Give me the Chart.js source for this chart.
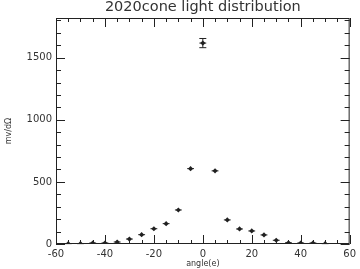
<!DOCTYPE html>
<html>
<head>
<meta charset="UTF-8">
<script src="https://cdn.jsdelivr.net/npm/chart.js"></script>
<style>
  body { margin: 0; background: #fff; }
  #wrap { width: 360px; height: 269px; }
</style>
</head>
<body>
<div id="wrap"><canvas id="c" width="360" height="269"></canvas></div>
<script>
// data
const angles = [-55, -50, -45, -40, -35, -30, -25, -20, -15, -10, -5, 0, 5, 10, 15, 20, 25, 30, 35, 40, 45, 50];
const signal = [3, 3, 8, 8, 16, 40, 75, 123, 164, 274, 607, 1618, 589, 194, 121, 105, 73, 30, 10, 8, 8, 3];
const sigErr = [2, 2, 2, 2, 3, 3, 4, 5, 5, 6, 9, 37, 9, 6, 5, 5, 4, 3, 3, 2, 2, 2];
const angErr = 1.4;
const xTicks = [-60, -40, -20, 0, 20, 40, 60];
const yTicks = [0, 500, 1000, 1500];

const ink = "#222";

// inward ticks on all four sides plus frame, error bars, title
const decor = {
  id: "decor",
  afterDatasetsDraw(chart) {
    const ctx = chart.ctx, a = chart.chartArea;
    const xs = chart.scales.x, ys = chart.scales.y;
    ctx.save();
    ctx.strokeStyle = ink;
    ctx.lineWidth = 1;
    ctx.strokeRect(a.left + 0.5, a.top + 0.5, a.right - a.left - 1, a.bottom - a.top - 1);
    ctx.beginPath();
    for (let v = -60; v <= 60; v += 5) {
      const px = Math.round(xs.getPixelForValue(v)) + 0.5;
      const len = v % 20 === 0 ? 9 : 4;
      ctx.moveTo(px, a.bottom); ctx.lineTo(px, a.bottom - len);
      ctx.moveTo(px, a.top); ctx.lineTo(px, a.top + len);
    }
    for (let v = 0; v <= ys.max; v += 100) {
      const py = Math.round(ys.getPixelForValue(v)) + 0.5;
      const len = v % 500 === 0 ? 9 : 5;
      ctx.moveTo(a.left, py); ctx.lineTo(a.left + len, py);
      ctx.moveTo(a.right, py); ctx.lineTo(a.right - len, py);
    }
    ctx.stroke();

    // error bars
    ctx.beginPath();
    angles.forEach((ang, i) => {
      const x0 = xs.getPixelForValue(ang - angErr), x1 = xs.getPixelForValue(ang + angErr);
      const xc = xs.getPixelForValue(ang);
      const yc = ys.getPixelForValue(signal[i]);
      const yt = ys.getPixelForValue(signal[i] + sigErr[i]);
      const yb = ys.getPixelForValue(signal[i] - sigErr[i]);
      ctx.moveTo(x0, yc); ctx.lineTo(x1, yc);
      ctx.moveTo(xc, yt); ctx.lineTo(xc, yb);
      if (yb - yt > 6) {
        ctx.moveTo(xc - 3.5, yt); ctx.lineTo(xc + 3.5, yt);
        ctx.moveTo(xc - 3.5, yb); ctx.lineTo(xc + 3.5, yb);
      }
    });
    ctx.stroke();

    ctx.fillStyle = "#333";
    ctx.font = "14.5px 'DejaVu Sans'";
    ctx.textAlign = "center";
    ctx.textBaseline = "middle";
    ctx.fillText("2020cone light distribution", (a.left + a.right) / 2, 7);
    ctx.restore();
  }
};

new Chart(document.getElementById("c"), {
  type: "scatter",
  data: {
    datasets: [{
      data: angles.map((a, i) => ({ x: a, y: signal[i] })),
      pointStyle: "rectRot",
      pointRadius: 2.6,
      backgroundColor: ink,
      borderColor: ink,
      borderWidth: 0
    }]
  },
  options: {
    responsive: false,
    animation: false,
    layout: { padding: { top: 18, right: 6, left: 0, bottom: 0 } },
    plugins: { legend: { display: false }, tooltip: { enabled: false } },
    scales: {
      x: {
        type: "linear",
        min: -60, max: 60,
        afterBuildTicks: s => { s.ticks = xTicks.map(v => ({ value: v })); },
        afterFit: s => { s.height = 25; },
        grid: { display: false, drawTicks: false },
        border: { display: false },
        ticks: { color: "#333", padding: 4, callback: v => String(v), font: { family: "DejaVu Sans", size: 10 }, maxRotation: 0 },
        title: { display: true, text: "angle(e)", color: "#333", padding: 0, font: { family: "DejaVu Sans", size: 8 } }
      },
      y: {
        min: 0, max: 1820,
        afterBuildTicks: s => { s.ticks = yTicks.map(v => ({ value: v })); },
        afterFit: s => { s.width = 56; },
        grid: { display: false, drawTicks: false },
        border: { display: false },
        ticks: { color: "#333", padding: 4, callback: v => String(v), font: { family: "DejaVu Sans", size: 10 } },
        title: { display: true, text: "mv/dΩ", color: "#333", padding: { top: 4, bottom: 0 }, font: { family: "DejaVu Sans", size: 8 } }
      }
    }
  },
  plugins: [decor]
});
</script>
</body>
</html>
